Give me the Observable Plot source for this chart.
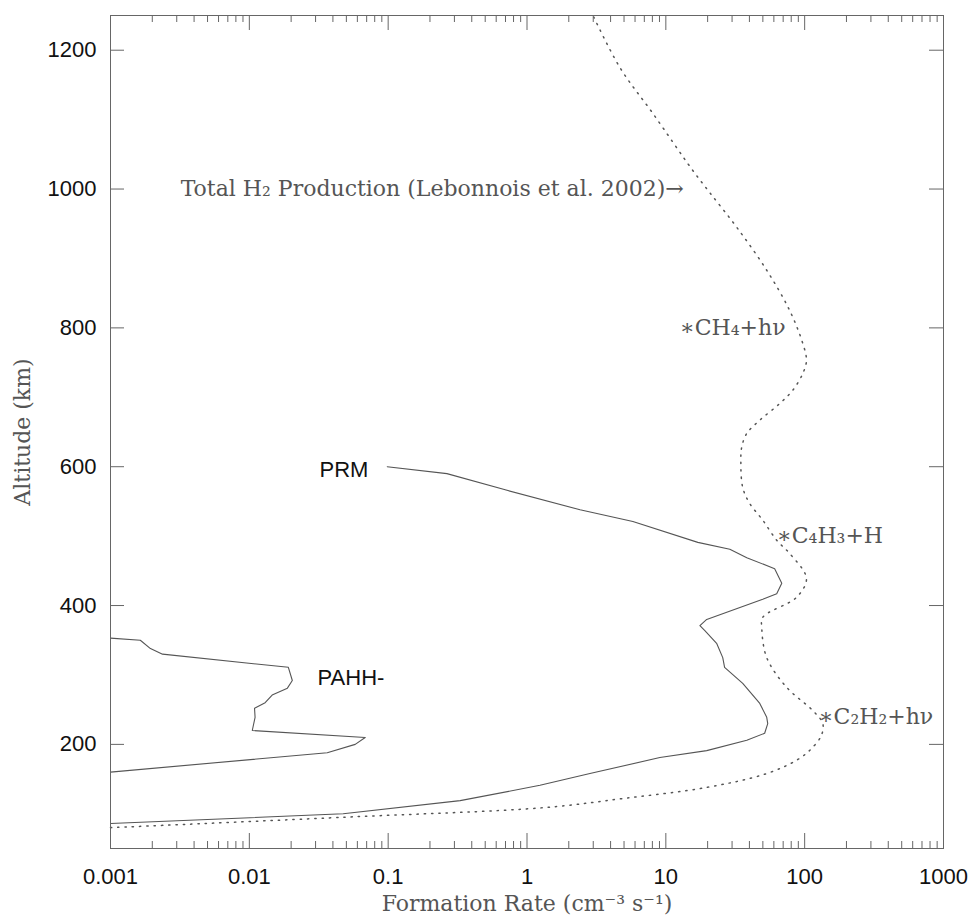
<!DOCTYPE html>
<html><head><meta charset="utf-8">
<script src="https://cdn.jsdelivr.net/npm/d3@7"></script>
<script src="https://cdn.jsdelivr.net/npm/@observablehq/plot@0.6"></script>
<style>body{margin:0;background:#fff}</style>
</head><body><div id="chart"></div>
<script>
// Total H2 production (Lebonnois et al. 2002) — dotted
const totalRate = [0.001, 0.0474, 1.35, 4.91, 19.7, 53.3, 89, 112, 132, 135, 114, 74.3, 53.3, 49.1, 49.9, 87.5, 103, 78.0, 62.9, 49.9, 40.2, 35.8, 34.7, 35.2, 38.3, 47.5, 66.1, 82.0, 96.8, 103, 96.8, 78.0, 53.3, 32.4, 20.7, 15.6, 8.06, 4.67, 2.99];
const totalAlt  = [80, 95, 109, 122, 138, 158, 178, 194, 213, 230, 249, 282, 325, 368, 383, 412, 439, 475, 494, 523, 547, 570, 609, 628, 648, 667, 691, 710, 734, 753, 778, 825, 883, 945, 995, 1027, 1109, 1175, 1250];
// PRM
const prmRate = [0.001, 0.0474, 0.330, 1.24, 2.84, 9.06, 19.7, 38.3, 51.5, 54.2, 53.3, 47.5, 35.8, 26.5, 25.7, 23.3, 19.1, 17.6, 19.7, 49.9, 62.9, 68.4, 60.8, 38.3, 28.9, 17.0, 5.79, 2.41, 0.718, 0.265, 0.0984];
const prmAlt  = [86, 100, 119, 141, 158, 181, 191, 206, 216, 230, 239, 259, 288, 311, 325, 345, 364, 371, 380, 409, 417, 432, 453, 469, 481, 491, 521, 538, 566, 590, 600];
// PAHH-
const pahhRate = [0.001, 0.0364, 0.0579, 0.0683, 0.0105, 0.0110, 0.0109, 0.0130, 0.0146, 0.0188, 0.0204, 0.0191, 0.00237, 0.00194, 0.00164, 0.001];
const pahhAlt  = [160, 188, 200, 210, 220, 239, 252, 260, 271, 281, 292, 311, 330, 338, 350, 353];

// ticks
const xTickValues = [0.001, 0.01, 0.1, 1, 10, 100, 1000];
const xTickLabels = ["0.001", "0.01", "0.1", "1", "10", "100", "1000"];
const yTickValues = [200, 400, 600, 800, 1000, 1200];
const yTickLabels = ["200", "400", "600", "800", "1000", "1200"];

// annotations
const annotText = ["Total H\u2082 Production (Lebonnois et al. 2002)\u2192", "\u2217CH\u2084+h\u03BD", "\u2217C\u2084H\u2083+H", "\u2217C\u2082H\u2082+h\u03BD"];
const annotRate = [0.0032, 12.6, 63, 126];
const annotAlt  = [1000, 800, 500, 240];
const curveLabel = ["PRM", "PAHH-"];
const curveLabelRate = [0.072, 0.031];
const curveLabelAlt = [595, 295];
const curveLabelAnchor = ["end", "start"];

const xTitle = "Formation Rate (cm\u207B\u00B3 s\u207B\u00B9)";
const yTitle = "Altitude (km)";

const W = 969, H = 915, mL = 110, mR = 26, mT = 15, mB = 67;
const innerW = W - mL - mR, innerH = H - mT - mB;
const rows = (xs, ys) => xs.map((x, i) => ({rate: x, alt: ys[i]}));
const xMinor = [];
for (let i = 0; i < xTickValues.length - 1; i++) for (let k = 2; k <= 9; k++) xMinor.push(xTickValues[i] * k);

const serif = "'DejaVu Serif', serif";
const sans = "'Liberation Sans', Arial, Helvetica, sans-serif";
const axisColor = "#666";
const serifSize = 22;

const chart = Plot.plot({
  width: W, height: H,
  marginLeft: mL, marginRight: mR, marginTop: mT, marginBottom: mB,
  x: {type: "log", domain: [0.001, 1000]},
  y: {domain: [50, 1250]},
  style: {fontFamily: sans, fontSize: "22px", color: "#111", background: "#fff"},
  marks: [
    Plot.line(rows(totalRate, totalAlt), {x: "rate", y: "alt", stroke: "#555", strokeWidth: 1.5, strokeDasharray: "1.3 6", curve: "catmull-rom"}),
    Plot.line(rows(prmRate, prmAlt), {x: "rate", y: "alt", stroke: "#555", strokeWidth: 1.1}),
    Plot.line(rows(pahhRate, pahhAlt), {x: "rate", y: "alt", stroke: "#555", strokeWidth: 1.1}),
    Plot.ruleX(xTickValues, {insetTop: innerH - 15, stroke: axisColor}),
    Plot.ruleX(xTickValues, {insetBottom: innerH - 15, stroke: axisColor}),
    Plot.ruleX(xMinor, {insetTop: innerH - 7, stroke: axisColor}),
    Plot.ruleX(xMinor, {insetBottom: innerH - 7, stroke: axisColor}),
    Plot.ruleY(yTickValues, {insetRight: innerW - 14, stroke: axisColor}),
    Plot.ruleY(yTickValues, {insetLeft: innerW - 14, stroke: axisColor}),
    Plot.frame({stroke: axisColor}),
    Plot.axisX(xTickValues, {tickSize: 0, tickPadding: 20, label: null, tickFormat: d => xTickLabels[xTickValues.indexOf(d)], fontSize: 22}),
    Plot.axisY(yTickValues, {tickSize: 0, tickPadding: 14, label: null, tickFormat: d => yTickLabels[yTickValues.indexOf(d)], fontSize: 22}),
    Plot.text([xTitle], {frameAnchor: "bottom", dy: 55, textAnchor: "middle", lineAnchor: "middle", fontFamily: serif, fontSize: serifSize, fill: "#555"}),
    Plot.text([yTitle], {frameAnchor: "left", dx: -88, rotate: -90, textAnchor: "middle", lineAnchor: "middle", fontFamily: serif, fontSize: serifSize, fill: "#555"}),
    Plot.text(annotText, {x: (d, i) => annotRate[i], y: (d, i) => annotAlt[i], text: d => d, textAnchor: "start", lineAnchor: "middle", fontFamily: serif, fontSize: serifSize, fill: "#555"}),
    Plot.text(curveLabel, {x: (d, i) => curveLabelRate[i], y: (d, i) => curveLabelAlt[i], text: d => d, textAnchor: "end", lineAnchor: "middle", fontFamily: sans, fontSize: 22, fill: "#111", filter: (d, i) => curveLabelAnchor[i] === "end"}),
    Plot.text(curveLabel, {x: (d, i) => curveLabelRate[i], y: (d, i) => curveLabelAlt[i], text: d => d, textAnchor: "start", lineAnchor: "middle", fontFamily: sans, fontSize: 22, fill: "#111", filter: (d, i) => curveLabelAnchor[i] === "start"})
  ]
});
document.getElementById("chart").appendChild(chart);
</script>
</body></html>
